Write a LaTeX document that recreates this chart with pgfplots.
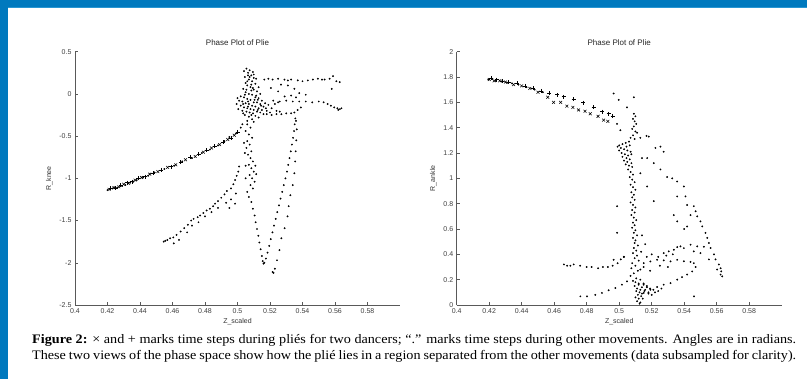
\documentclass[border=0pt]{standalone}
\usepackage{fontspec}
\setmainfont{Liberation Serif}
\newfontfamily\capfont[FakeStretch=1.09]{Liberation Serif}
\newfontfamily\arial{Liberation Sans}
\usepackage{pgfplots}
\pgfplotsset{compat=1.18}
\definecolor{frameblue}{RGB}{0,121,190}
\definecolor{frameblue2}{RGB}{40,150,210}
\pgfplotsset{
  phase/.style={
    scale only axis, width=325pt, height=253.3pt,
    anchor=south west,
    axis x line*=bottom, axis y line*=left,
    x axis line style={-}, y axis line style={-},
    axis line style={black!65, line width=0.6pt},
    tick style={black!65, line width=0.5pt},
    major tick length=3pt, tick align=inside,
    xmin=0.4, xmax=0.6,
    xtick={0.4,0.42,0.44,0.46,0.48,0.5,0.52,0.54,0.56,0.58},
    xticklabels={0.4,0.42,0.44,0.46,0.48,0.5,0.52,0.54,0.56,0.58},
    tick label style={font=\arial\fontsize{7}{8}\selectfont, text=black!75},
    label style={font=\arial\fontsize{7}{8}\selectfont, text=black!80},
    title style={font=\arial\fontsize{8}{9}\selectfont, text=black!85, yshift=-3pt},
    title={Phase Plot of Plie},
    xlabel={Z\_scaled},
    xlabel style={yshift=2pt},
    clip=false,
  },
  dots/.style={only marks, mark=*, mark size=0.7pt, black, mark options={fill=black, draw=none}},
  xm/.style={only marks, mark=x, mark size=2pt, black, mark options={line width=0.55pt}},
  pm/.style={only marks, mark=+, mark size=2pt, black, mark options={line width=0.55pt}},
}
\begin{document}
\begin{tikzpicture}
\fill[white] (0,0) rectangle (807pt,379pt);
\fill[frameblue] (0,0) rectangle (8pt,379pt);
\fill[frameblue] (0,372pt) rectangle (807pt,379pt);
\fill[frameblue2] (8pt,371pt) rectangle (807pt,372pt);

% ---------------- left plot ----------------
\begin{axis}[phase, at={(75pt,74pt)},
  ymin=-2.5, ymax=0.5,
  ytick={-2.5,-2,-1.5,-1,-0.5,0,0.5},
  yticklabels={-2.5,-2,-1.5,-1,-0.5,0,0.5},
  ylabel={R\_knee}]
\addplot[xm] coordinates {
(0.421,-1.13) (0.424,-1.11) (0.427,-1.10) (0.430,-1.07) (0.433,-1.06) (0.437,-1.02)
(0.441,-0.99) (0.446,-0.95) (0.451,-0.92) (0.457,-0.87) (0.462,-0.84) (0.468,-0.78)
(0.474,-0.74) (0.479,-0.69) (0.484,-0.64) (0.489,-0.60) (0.494,-0.54) (0.498,-0.49)
};
\addplot[pm] coordinates {
(0.422,-1.12) (0.425,-1.12) (0.428,-1.08) (0.432,-1.05) (0.435,-1.04) (0.439,-1.00)
(0.443,-0.98) (0.448,-0.94) (0.453,-0.90) (0.459,-0.86) (0.465,-0.81) (0.471,-0.75)
(0.476,-0.71) (0.481,-0.67) (0.486,-0.62) (0.491,-0.57) (0.496,-0.52) (0.500,-0.45)
};
\addplot[dots] coordinates {
(0.420,-1.14) (0.423,-1.12) (0.426,-1.11) (0.429,-1.09) (0.431,-1.08) (0.434,-1.05)
(0.436,-1.04) (0.438,-1.02) (0.442,-0.99) (0.445,-0.97) (0.449,-0.93) (0.455,-0.89)
(0.461,-0.85) (0.466,-0.80) (0.472,-0.76) (0.478,-0.70) (0.483,-0.66) (0.488,-0.61)
(0.492,-0.56) (0.495,-0.51) (0.499,-0.47) (0.502,-0.40) (0.503,-0.36)
% lower-left branch
(0.4546,-1.75) (0.4556,-1.74) (0.4568,-1.73) (0.4585,-1.71) (0.4605,-1.70) (0.4625,-1.67)
(0.4650,-1.63) (0.4672,-1.59) (0.4695,-1.55) (0.4715,-1.50) (0.4730,-1.48) (0.4755,-1.46)
(0.4770,-1.44) (0.4790,-1.41) (0.4810,-1.38) (0.4830,-1.36) (0.4850,-1.33) (0.4862,-1.30)
(0.4880,-1.27) (0.4900,-1.23) (0.4920,-1.19) (0.4935,-1.15) (0.4960,-1.12) (0.4975,-1.07)
(0.4985,-1.02) (0.4995,-0.97) (0.5005,-0.92) (0.5010,-0.86)
(0.4608,-1.77) (0.4640,-1.73) (0.4690,-1.64) (0.4720,-1.56) (0.4760,-1.52) (0.4800,-1.45)
(0.4840,-1.40) (0.4880,-1.35) (0.4930,-1.29) (0.4960,-1.25) (0.4990,-1.18) (0.4950,-1.35)
(0.4985,-1.30)
% dense cluster
(0.5055,0.30) (0.5075,0.28) (0.5065,0.25) (0.5085,0.22) (0.5045,0.20) (0.5100,0.19)
(0.5070,0.17) (0.5090,0.15) (0.5050,0.13) (0.5110,0.12) (0.5060,0.10) (0.5080,0.08)
(0.5035,0.06) (0.5100,0.05) (0.5120,0.03) (0.5050,0.02) (0.5070,0.00) (0.5090,-0.01)
(0.5020,-0.03) (0.5040,-0.04) (0.5110,-0.04) (0.5130,-0.05) (0.5060,-0.06) (0.5080,-0.07)
(0.5010,-0.08) (0.5150,-0.08) (0.5030,-0.09) (0.5100,-0.10) (0.5120,-0.10) (0.5170,-0.11)
(0.5050,-0.11) (0.5070,-0.12) (0.5140,-0.12) (0.5190,-0.13) (0.5090,-0.14) (0.5020,-0.14)
(0.5110,-0.15) (0.5160,-0.15) (0.5040,-0.16) (0.5060,-0.17) (0.5130,-0.17) (0.5210,-0.17)
(0.5080,-0.18) (0.5100,-0.19) (0.5150,-0.19) (0.5030,-0.20) (0.5180,-0.20) (0.5055,-0.21)
(0.5120,-0.21) (0.5075,-0.22) (0.5140,-0.22) (0.5200,-0.22) (0.5095,-0.23) (0.5160,-0.24)
(0.5045,-0.25) (0.5110,-0.26) (0.5070,-0.27) (0.5130,-0.28) (0.5090,-0.30) (0.5060,-0.32)
(0.5000,-0.05) (0.4995,-0.12) (0.5005,-0.18) (0.5140,0.00) (0.5130,0.08) (0.5115,0.18)
(0.5095,0.26) (0.5040,0.27) (0.5100,-0.33) (0.5230,-0.12) (0.5250,-0.10) (0.5240,-0.20)
(0.5260,-0.21) (0.5065,0.22) (0.5085,0.11) (0.5045,-0.01) (0.5105,-0.07) (0.5065,-0.15)
(0.5125,-0.19) (0.5035,-0.23) (0.5085,0.04) (0.5100,0.23) (0.5060,0.15)
(0.5075,0.20) (0.5095,0.07) (0.5055,0.05) (0.5115,-0.02) (0.5035,-0.12) (0.5145,-0.14)
(0.5085,-0.25) (0.5175,-0.17) (0.5065,-0.09) (0.5125,-0.07)
% upper right band
(0.5165,0.17) (0.5190,0.18) (0.5216,0.17) (0.5250,0.18) (0.5289,0.17) (0.5310,0.16)
(0.5330,0.17) (0.5371,0.16) (0.5400,0.15) (0.5433,0.16) (0.5464,0.17) (0.5495,0.18)
(0.5520,0.17) (0.5536,0.17) (0.5567,0.18) (0.5588,0.21) (0.5608,0.15) (0.5629,0.14)
(0.5580,0.06) (0.5206,0.07) (0.5268,0.11) (0.5310,0.10) (0.5350,0.06) (0.5380,0.01)
(0.5330,-0.02) (0.5290,-0.03) (0.5420,-0.01) (0.5360,-0.04) (0.5250,0.03)
% middle band
(0.5220,-0.08) (0.5260,-0.09) (0.5300,-0.08) (0.5340,-0.09) (0.5380,-0.09) (0.5420,-0.09)
(0.5460,-0.10) (0.5500,-0.09) (0.5530,-0.10) (0.5555,-0.12) (0.5575,-0.14) (0.5595,-0.16)
(0.5615,-0.17) (0.5630,-0.18) (0.5640,-0.17) (0.5620,-0.19)
% lower band
(0.5180,-0.24) (0.5210,-0.25) (0.5240,-0.24) (0.5270,-0.24) (0.5300,-0.23) (0.5330,-0.23)
(0.5350,-0.22) (0.5370,-0.19) (0.5390,-0.16)
% left strand of V
(0.5060,-0.36) (0.5080,-0.40) (0.5050,-0.44) (0.5070,-0.48) (0.5090,-0.52) (0.5060,-0.56)
(0.5075,-0.60) (0.5055,-0.64) (0.5085,-0.68) (0.5065,-0.72) (0.5080,-0.76) (0.5095,-0.80)
(0.5070,-0.84) (0.5085,-0.88) (0.5100,-0.92) (0.5075,-0.96) (0.5090,-1.00) (0.5105,-1.04)
(0.5080,-1.08) (0.5095,-1.12) (0.5060,-1.16) (0.5070,-1.22) (0.5085,-1.28) (0.5095,-1.36)
(0.5105,-1.44) (0.5112,-1.52) (0.5120,-1.60) (0.5128,-1.68) (0.5135,-1.76) (0.5142,-1.84)
(0.5150,-1.92) (0.5155,-1.98) (0.5160,-2.01) (0.5165,-2.00)
(0.5040,-0.58) (0.5045,-0.70) (0.5050,-0.85) (0.5110,-0.85) (0.5115,-0.95) (0.5050,-1.00)
% inner right arm
(0.5175,-1.95) (0.5185,-1.88) (0.5195,-1.80) (0.5205,-1.72) (0.5215,-1.64) (0.5225,-1.56)
(0.5235,-1.48) (0.5245,-1.40) (0.5255,-1.32) (0.5265,-1.24) (0.5275,-1.16) (0.5285,-1.08)
(0.5295,-1.00) (0.5305,-0.92) (0.5312,-0.84) (0.5320,-0.76) (0.5328,-0.68) (0.5335,-0.60)
(0.5342,-0.52) (0.5348,-0.44) (0.5352,-0.36) (0.5356,-0.29)
% outer line
(0.5360,-0.32) (0.5365,-0.42) (0.5362,-0.55) (0.5358,-0.68) (0.5355,-0.80) (0.5350,-0.94)
(0.5340,-1.08) (0.5325,-1.20) (0.5315,-1.33) (0.5308,-1.45) (0.5290,-1.59) (0.5270,-1.71)
(0.5258,-1.85) (0.5243,-1.97) (0.5230,-2.07) (0.5222,-2.12) (0.5216,-2.11)
};
\end{axis}

% ---------------- right plot ----------------
\begin{axis}[phase, at={(456.7pt,74pt)},
  ymin=0, ymax=2,
  ytick={0,0.2,0.4,0.6,0.8,1,1.2,1.4,1.6,1.8,2},
  yticklabels={0,0.2,0.4,0.6,0.8,1,1.2,1.4,1.6,1.8,2},
  ylabel={R\_ankle}]
\addplot[xm] coordinates {
(0.4200,1.78) (0.4230,1.77) (0.4265,1.77) (0.4300,1.76) (0.4350,1.74) (0.4400,1.73)
(0.4450,1.71) (0.4500,1.68) (0.4560,1.64) (0.4596,1.60) (0.4640,1.60) (0.4678,1.57)
(0.4715,1.56) (0.4750,1.54) (0.4790,1.53) (0.4822,1.51) (0.4870,1.49) (0.4904,1.46)
(0.4930,1.45)
};
\addplot[pm] coordinates {
(0.4210,1.79) (0.4245,1.78) (0.4280,1.77) (0.4320,1.76) (0.4370,1.75) (0.4420,1.73)
(0.4470,1.71) (0.4520,1.69) (0.4570,1.67) (0.4620,1.66) (0.4658,1.645) (0.4720,1.624)
(0.4780,1.598) (0.4843,1.56) (0.4894,1.527) (0.4935,1.51) (0.4960,1.49)
};
\addplot[dots] coordinates {
(0.4195,1.78) (0.4220,1.785) (0.4240,1.77) (0.4275,1.765) (0.4310,1.755) (0.4340,1.75)
(0.4380,1.74) (0.4430,1.72) (0.4480,1.70) (0.4530,1.68)
% strand
(0.5090,1.51) (0.5100,1.49) (0.5085,1.47) (0.5095,1.45) (0.5105,1.43) (0.5090,1.41)
(0.5080,1.39) (0.5100,1.37) (0.5110,1.36) (0.5085,1.34) (0.5070,1.32) (0.5095,1.31)
(0.5060,1.29) (0.5040,1.28) (0.5020,1.27) (0.5000,1.26) (0.4990,1.25) (0.5010,1.24)
(0.5030,1.23) (0.5050,1.22) (0.5070,1.21) (0.5015,1.20) (0.5035,1.19) (0.5055,1.18)
(0.5020,1.17) (0.5045,1.16) (0.5065,1.15) (0.5030,1.14) (0.5050,1.13) (0.5075,1.12)
(0.5040,1.11) (0.5060,1.10) (0.5080,1.09) (0.5055,1.07) (0.5070,1.05) (0.5085,1.03)
(0.5065,1.01) (0.5080,0.99) (0.5095,0.97) (0.5070,0.95) (0.5085,0.93) (0.5100,0.91)
(0.5075,0.89) (0.5090,0.87) (0.5080,0.85) (0.5095,0.83) (0.5070,0.81) (0.5085,0.79)
(0.5100,0.77) (0.5080,0.75) (0.5095,0.73) (0.5075,0.71) (0.5090,0.69) (0.5105,0.67)
(0.5085,0.65) (0.5095,0.63) (0.5080,0.61) (0.5100,0.59) (0.5090,0.57) (0.5110,0.55)
(0.5085,0.53) (0.5100,0.51) (0.5095,0.49) (0.5115,0.47) (0.5090,0.45) (0.5105,0.43)
(0.5085,0.41) (0.5110,0.39) (0.5095,0.37) (0.5120,0.35) (0.5080,0.33) (0.5100,0.31)
(0.5075,0.29) (0.5115,0.27) (0.5090,0.25) (0.5070,0.23) (0.5105,0.21) (0.5085,0.19)
(0.5120,0.17) (0.5095,0.15) (0.5110,0.13) (0.5130,0.12) (0.5105,0.11) (0.5125,0.10)
(0.5140,0.09) (0.5115,0.08) (0.5135,0.07) (0.5100,0.06) (0.5120,0.05) (0.5145,0.05)
(0.5110,0.03) (0.5130,0.02) (0.5125,0.01)
(0.5065,1.26) (0.5075,1.19) (0.5000,1.22) (0.5045,1.25)
(0.5155,0.11) (0.5170,0.14) (0.5150,0.16) (0.5180,0.10)
% scattered near strand
(0.5130,1.32) (0.5168,1.335) (0.5130,1.04) (0.5140,1.16) (0.4966,1.67) (0.5090,1.64)
(0.4997,1.62) (0.4987,1.43) (0.5007,1.38) (0.5048,1.56) (0.4987,0.78) (0.4987,0.57)
(0.5172,0.936) (0.5213,0.82) (0.5336,0.71) (0.5357,0.66) (0.5400,0.60) (0.5418,0.62)
(0.5140,0.55) (0.5160,0.48) (0.5135,0.42) (0.5170,0.38) (0.5150,0.30) (0.5190,0.27)
% descending diagonal
(0.5182,1.33) (0.5223,1.24) (0.5254,1.25) (0.5274,1.21) (0.5172,1.16) (0.5213,1.12)
(0.5254,1.07) (0.5295,1.01) (0.5326,1.00) (0.5357,0.975) (0.5398,0.936) (0.5357,0.857)
(0.5408,0.857) (0.5418,0.79) (0.5459,0.78) (0.5439,0.71) (0.5470,0.74) (0.5480,0.70)
(0.5500,0.66) (0.5511,0.62) (0.5531,0.57) (0.5542,0.53) (0.5552,0.49) (0.5562,0.45)
(0.5583,0.40) (0.5593,0.36) (0.5613,0.32) (0.5624,0.29) (0.5628,0.265) (0.5634,0.226)
(0.5624,0.24) (0.5603,0.28) (0.5552,0.36) (0.5521,0.46)
% lower loop bands
(0.5151,0.095) (0.5192,0.12) (0.5233,0.142) (0.5274,0.16) (0.5316,0.173) (0.5357,0.20)
(0.5387,0.22) (0.5418,0.24) (0.5449,0.265) (0.5470,0.30) (0.5459,0.33) (0.5439,0.34)
(0.5398,0.345)
(0.5151,0.33) (0.5192,0.344) (0.5233,0.357) (0.5274,0.352) (0.5316,0.344) (0.5357,0.357)
(0.5274,0.41) (0.5305,0.423) (0.5336,0.436) (0.5357,0.457) (0.5377,0.463) (0.5398,0.449)
(0.5439,0.476) (0.5480,0.463) (0.5500,0.41) (0.5459,0.423)
(0.5200,0.40) (0.5240,0.38) (0.5290,0.39) (0.5330,0.40) (0.5250,0.31) (0.5300,0.30)
% bottom hook
(0.5100,0.18) (0.5130,0.20) (0.5150,0.17) (0.5170,0.15) (0.5190,0.13) (0.5210,0.12)
(0.5160,0.12) (0.5140,0.14) (0.5120,0.16) (0.5180,0.09) (0.5200,0.08) (0.5220,0.10)
(0.5240,0.11) (0.5260,0.13)
% left lines
(0.4660,0.32) (0.4680,0.31) (0.4700,0.31) (0.4720,0.32) (0.4760,0.31) (0.4800,0.30)
(0.4830,0.30) (0.4870,0.29) (0.4900,0.30) (0.4930,0.30) (0.4960,0.31) (0.4990,0.33)
(0.5010,0.36) (0.5030,0.38) (0.5028,0.38)
(0.4761,0.068) (0.4802,0.068) (0.4853,0.08) (0.4894,0.095) (0.4935,0.116) (0.4976,0.134)
(0.5017,0.16) (0.5048,0.187)
(0.5460,0.068) (0.4966,0.357) (0.5130,0.28)
};
\end{axis}

% caption
\node[anchor=base west, inner sep=0pt] at (32pt,35pt) {\capfont\fontsize{13}{15}\selectfont\makebox[764pt][s]{\textbf{Figure 2:} × and + marks time steps during pliés for two dancers; “.” marks time steps during other movements. Angles are in radians.}};
\node[anchor=base west, inner sep=0pt] at (32pt,19.5pt) {\capfont\fontsize{13}{15}\selectfont\makebox[764pt][s]{These two views of the phase space show how the plié lies in a region separated from the other movements (data subsampled for clarity).}};
\end{tikzpicture}
\end{document}
